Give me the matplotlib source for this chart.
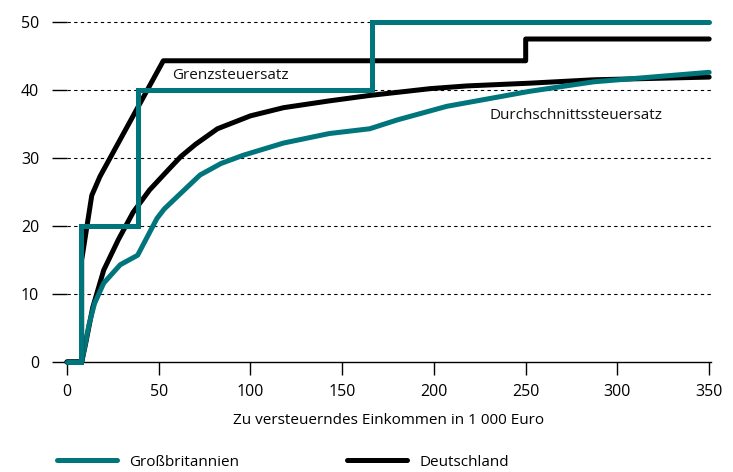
import matplotlib
matplotlib.use("Agg")
import matplotlib.pyplot as plt
from matplotlib.lines import Line2D

plt.rcParams['font.family'] = ['Open Sans', 'DejaVu Sans']

TEAL = '#00767c'

# Marginal tax rate (Grenzsteuersatz)
uk_marg_x = [0, 7.5, 38.5, 166, 350]
uk_marg_y = [0, 20, 40, 50, 50]
de_marg_x = [0, 8, 8, 13.5, 18, 52.5, 250, 250, 350]
de_marg_y = [0, 0, 15, 24.5, 27.3, 44.3, 44.3, 47.5, 47.5]

# Average tax rate (Durchschnittssteuersatz)
de_avg_x = [0, 8, 10, 14, 20, 28, 36, 45, 55, 62, 70, 82, 100, 118, 143, 165, 198, 218, 252, 287, 350]
de_avg_y = [0, 0, 2.5, 8, 13.5, 18, 22, 25.3, 28.2, 30.2, 32.0, 34.3, 36.2, 37.4, 38.4, 39.2, 40.2, 40.6, 41.0, 41.5, 41.9]
uk_avg_x = [0, 8, 12, 15, 20, 29, 38.5, 49, 53, 60, 72.5, 84, 96, 118, 143, 165, 180, 207, 252, 287, 350]
uk_avg_y = [0, 0, 5.5, 8.6, 11.6, 14.3, 15.7, 21.1, 22.5, 24.3, 27.5, 29.2, 30.4, 32.2, 33.6, 34.3, 35.6, 37.6, 39.8, 41.2, 42.6]

xticks = [0, 50, 100, 150, 200, 250, 300, 350]
yticks = [0, 10, 20, 30, 40, 50]

fig = plt.figure(figsize=(7.33, 4.72), dpi=100)
ax = fig.add_axes([67/733, (472-362)/472, 644/733, (362-8.4)/472])

ax.set_xlim(0, 351)
ax.set_ylim(0, 52)

for y in yticks[1:]:
    ax.axhline(y, color='black', lw=0.8, ls=(0, (3, 3)), zorder=1)

lw = 3.6
ax.plot(de_avg_x, de_avg_y, color='black', lw=lw, solid_capstyle='round', solid_joinstyle='round', zorder=3, clip_on=False)
ax.plot(uk_avg_x, uk_avg_y, color=TEAL, lw=lw, solid_capstyle='round', solid_joinstyle='round', zorder=4, clip_on=False)
ax.plot(de_marg_x, de_marg_y, color='black', lw=lw, solid_capstyle='round', solid_joinstyle='round', zorder=5, clip_on=False)
ax.plot(uk_marg_x, uk_marg_y, color=TEAL, lw=lw, drawstyle='steps-post', solid_capstyle='round', solid_joinstyle='miter', zorder=6, clip_on=False)

ax.text(57.5, 42.2, 'Grenzsteuersatz', fontsize=11, ha='left', va='center', color='#111111')
ax.text(230.5, 36.2, 'Durchschnittssteuersatz', fontsize=11, ha='left', va='center', color='#111111')

for s in ['left', 'right', 'top']:
    ax.spines[s].set_visible(False)
ax.spines['bottom'].set_linewidth(1.0)
ax.spines['bottom'].set_zorder(2)

ax.set_xticks(xticks)
ax.set_yticks(yticks)
ax.tick_params(axis='x', direction='out', length=9.5, width=1.0, pad=6, labelsize=11.5)
ax.tick_params(axis='y', direction='out', length=11, width=1.0, pad=9, labelsize=11.5)
ax.set_xlabel('Zu versteuerndes Einkommen in 1 000 Euro', fontsize=11, labelpad=10)

handles = [Line2D([], [], color=TEAL, lw=lw, solid_capstyle='round'),
           Line2D([], [], color='black', lw=lw, solid_capstyle='round')]
fig.legend(handles, ['Großbritannien', 'Deutschland'], loc='center left',
           bbox_to_anchor=(57/733, 1 - 462/472), ncol=2, frameon=False,
           fontsize=11, handlelength=3.9, handletextpad=0.8, columnspacing=7.1,
           borderaxespad=0, borderpad=0)

fig.savefig('out.png', dpi=100)
